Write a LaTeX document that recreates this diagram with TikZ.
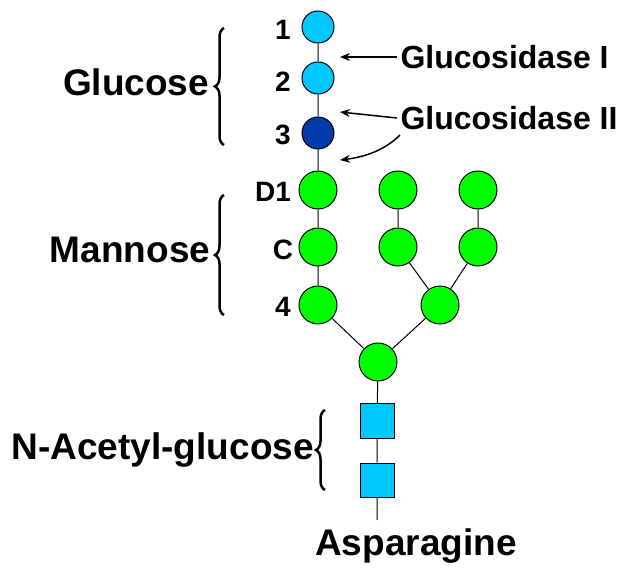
\documentclass[tikz,border=0pt]{standalone}
\usepackage{fontspec}
\setmainfont{Liberation Sans}
\usetikzlibrary{decorations.pathreplacing,arrows.meta}
\definecolor{lb}{RGB}{0,200,255}
\definecolor{db}{RGB}{0,60,170}
\begin{document}
\begin{tikzpicture}[x=1pt,y=-1pt,
 lbl/.style={font=\fontsize{28}{28}\selectfont\bfseries},
 big/.style={font=\fontsize{37}{37}\selectfont\bfseries},
 enz/.style={font=\fontsize{32}{32}\selectfont\bfseries},
 glc/.style={circle,draw=black,line width=1pt,fill=lb,minimum size=32pt,inner sep=0},
 glcd/.style={glc,fill=db},
 man/.style={circle,draw=black,line width=1pt,fill=green,minimum size=38pt,inner sep=0},
 nag/.style={rectangle,draw=black,line width=1pt,fill=lb,minimum size=34pt,inner sep=0},
 ln/.style={line width=1pt},
 br/.style={decorate,decoration={brace,amplitude=9pt},line width=2.5pt},
 ar/.style={-{Stealth[length=10pt,width=8pt]},line width=1.5pt}]
\useasboundingbox (0,0) rectangle (630,580);
\node[glc] (g1) at (318,27) {};
\node[glc] (g2) at (318,78) {};
\node[glcd] (g3) at (318,133) {};
\node[man] (d1) at (318,190) {};
\node[man] (c) at (318,247) {};
\node[man] (m4) at (318,305) {};
\node[man] (b1) at (398,190) {};
\node[man] (b2) at (398,247) {};
\node[man] (e1) at (478,190) {};
\node[man] (e2) at (478,247) {};
\node[man] (j) at (440,305) {};
\node[man] (r) at (378,362) {};
\node[nag] (n1) at (377,421) {};
\node[nag] (n2) at (377,480) {};
\coordinate (end) at (377,520);
\draw[ln] (g1)--(g2) (g2)--(g3) (g3)--(d1) (d1)--(c) (c)--(m4) (m4)--(r)
 (b1)--(b2) (e1)--(e2) (b2)--(j) (e2)--(j) (j)--(r) (r)--(n1) (n1)--(n2) (n2)--(end);
\node[lbl] (l1) at (283,30) {1};
\node[lbl] (l2) at (283,82) {2};
\node[lbl] (l3) at (283,135) {3};
\node[lbl] (ld) at (273,192) {D1};
\node[lbl] (lc) at (283,250) {C};
\node[lbl] (l4) at (283,307) {4};
\node[big] (glu) at (136,82) {Glucose};
\node[big] (man) at (130,250) {Mannose};
\node[big,anchor=east,inner sep=0] (nac) at (314,450) {N-Acetyl-glucose};
\node[big] (asp) at (416,546) {Asparagine};
\node[enz,anchor=west] (gi) at (397,57) {Glucosidase I};
\node[enz,anchor=west] (gii) at (397,118) {Glucosidase II};
\draw[br] (224,145) -- (224,28);
\draw[br] (224,315) -- (224,195);
\draw[br] (325,490) -- (325,410);
\coordinate (a1) at (340,57);
\coordinate (a2) at (340,112);
\coordinate (a3) at (340,160);
\draw[ar] (gi.west) -- (a1);
\draw[ar] (gii.west) -- (a2);
\draw[ar] (400,135) .. controls (385,150) and (365,157) .. (a3);
\end{tikzpicture}
\end{document}
